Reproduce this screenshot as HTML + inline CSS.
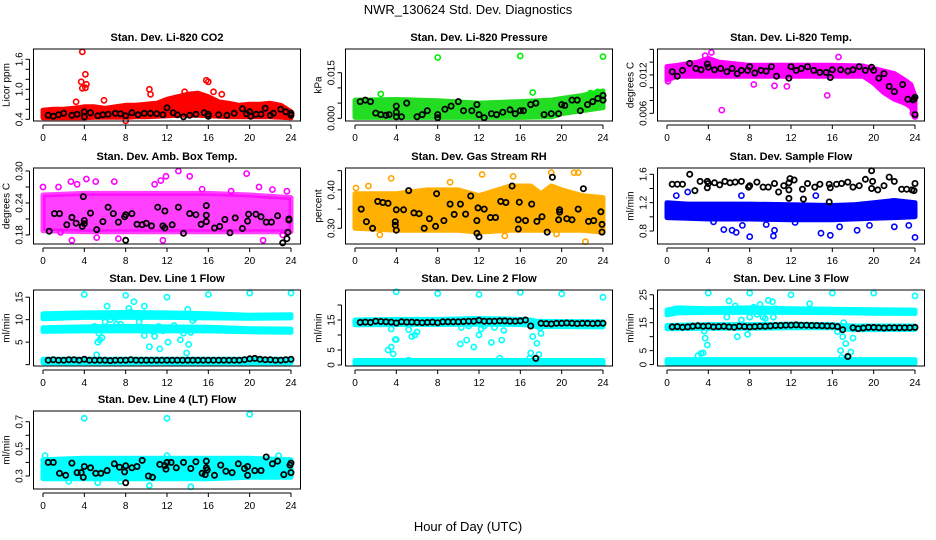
<!DOCTYPE html>
<html><head><meta charset="utf-8">
<style>
html,body{margin:0;padding:0;background:#fff;}
svg{display:block;font-family:"Liberation Sans",Arial,sans-serif;}
</style></head>
<body>
<svg id="chart" width="936" height="540" viewBox="0 0 936 540" xmlns="http://www.w3.org/2000/svg">
<rect x="0" y="0" width="936" height="540" fill="#fff"/>
<text x="468" y="14" text-anchor="middle" font-size="13">NWR_130624  Std. Dev. Diagnostics</text>
<text x="468" y="531" text-anchor="middle" font-size="13">Hour of Day (UTC)</text>
</svg>
<script>
// ---------- shared data ----------
const xTicks = [0,4,8,12,16,20,24];
const halfHours = [0.5,1,1.5,2,2.5,3,3.5,4,4.5,5,5.5,6,6.5,7,7.5,8,8.5,9,9.5,10,10.5,11,11.5,12,12.5,13,13.5,14,14.5,15,15.5,16,16.5,17,17.5,18,18.5,19,19.5,20,20.5,21,21.5,22,22.5,23,23.5,24];

// ---------- P1 CO2 ----------
const p1Band = [[0,0.43,0.58],[1,0.43,0.6],[2,0.43,0.6],[3,0.43,0.62],[4,0.43,0.65],[5,0.44,0.65],[6,0.44,0.62],[7,0.44,0.65],[8,0.44,0.68],[9,0.45,0.68],[10,0.45,0.7],[11,0.46,0.72],[12,0.47,0.8],[13,0.48,0.85],[14,0.48,0.9],[15,0.48,0.92],[16,0.47,0.85],[17,0.46,0.75],[18,0.45,0.72],[19,0.45,0.68],[20,0.45,0.7],[21,0.45,0.7],[22,0.45,0.72],[23,0.44,0.68],[24,0.43,0.55]];
const p1Out = [[3.8,1.75],[3.7,1.15],[3.8,1.02],[4.1,1.3],[4.2,1.1],[4.1,1.03],[10.3,1.0],[10.4,0.9],[15.8,1.18],[16,1.15],[16.5,0.95],[17.3,0.9],[8,0.37],[3.2,0.75],[5.9,0.78],[13.7,0.95]];
const p1Black = [[0.5,0.48],[1,0.46],[1.5,0.49],[2,0.52],[2.8,0.48],[3.3,0.5],[4,0.45],[4,0.55],[4.6,0.53],[5.3,0.47],[5.8,0.49],[6.3,0.5],[7,0.52],[7.5,0.51],[8,0.47],[8.6,0.53],[9.2,0.49],[9.8,0.52],[10.4,0.52],[11,0.51],[11.6,0.49],[12,0.63],[12.6,0.53],[13,0.49],[13.6,0.45],[14.2,0.48],[14.8,0.5],[15.6,0.53],[16,0.5],[16,0.46],[17,0.49],[17.8,0.48],[18.5,0.52],[19.3,0.61],[19.7,0.51],[20,0.55],[20.1,0.46],[20.6,0.5],[21.1,0.5],[21.5,0.62],[22,0.48],[22.3,0.52],[23,0.6],[23.5,0.55],[24,0.52],[24,0.48]];
const p1Ticks = [0.4,0.6,0.8,1.0,1.2,1.4,1.6];
const p1Labels = ["0.4","","","1.0","","","1.6"];

// ---------- P2 Pressure ----------
const p2Band = [[0,0.0003,0.006],[4,0.0003,0.0062],[8,0.0003,0.0058],[12,0.0003,0.005],[16,0.0003,0.0055],[19,0.0005,0.006],[20,0.0015,0.0065],[22,0.0025,0.0075],[24,0.0035,0.009]];
const p2Out = [[8,0.0200],[16,0.0205],[24,0.0203],[17.2,0.0085],[23.5,0.0087],[2.5,0.008],[22.8,0.0083]];
const p2Black = [[0.5,0.0055],[1,0.006],[1.5,0.0055],[2,0.0017],[2.5,0.0012],[3,0.001],[3.3,0.0012],[4,0.004],[4,0.002],[4,0.0005],[4.5,0.0005],[5,0.005],[6,0.0005],[6.5,0.0012],[7,0.0025],[8,0.0012],[8,0.0002],[8.7,0.003],[9.3,0.004],[10,0.0055],[10.5,0.0025],[11.3,0.0025],[11.8,0.0045],[12,0.0012],[12.5,0.0002],[13.2,0.0015],[13.7,0.0012],[14.3,0.002],[15,0.0028],[15.5,0.0015],[16,0.0025],[16.3,0.0025],[17,0.0045],[17.5,0.005],[18.3,0.0012],[19,0.0015],[19.7,0.0015],[20,0.0045],[20.3,0.0042],[21,0.006],[21.5,0.006],[21.8,0.0025],[22.5,0.0045],[23,0.0055],[23.5,0.0065],[24,0.0075],[24,0.006]];
const p2Ticks = [0,0.005,0.010,0.015];
const p2Labels = ["0.000","","","0.015"];

// ---------- P3 Li-820 Temp ----------
const p3Band = [[0,0.0112,0.0133],[1,0.0118,0.0135],[3,0.0118,0.0140],[4,0.0118,0.0146],[5,0.0118,0.0140],[8,0.0118,0.0135],[12,0.0118,0.0135],[16,0.0118,0.0135],[19,0.0118,0.0134],[20,0.0107,0.0130],[21,0.0092,0.0126],[22,0.0082,0.0122],[23,0.0076,0.0112],[23.6,0.0070,0.0105],[24,0.0056,0.0086]];
const p3Out = [[0.1,0.0110],[5.3,0.0065],[8.4,0.0105],[10.4,0.0103],[11.6,0.0102],[15.5,0.0088],[4.3,0.0155],[16.6,0.0148],[3.7,0.0150],[23.8,0.0060],[24,0.0055]];
const p3Black = [[0.5,0.0125],[1,0.0118],[1.5,0.0127],[2.2,0.0138],[2.8,0.0130],[3.3,0.0128],[3.9,0.0137],[4,0.0132],[4.6,0.0128],[5.2,0.0130],[5.8,0.0125],[6.3,0.0130],[6.8,0.0122],[7.2,0.0127],[7.8,0.0127],[8,0.0133],[8.5,0.0123],[9.1,0.0127],[9.6,0.0126],[10.1,0.0133],[10.6,0.0118],[11.8,0.0115],[12,0.0133],[12.5,0.0127],[13,0.0130],[13.6,0.0133],[14.2,0.0127],[14.8,0.0124],[15.4,0.0124],[15.8,0.0116],[16,0.0128],[16.8,0.0128],[17.5,0.0126],[18,0.0128],[18.6,0.0133],[19.2,0.0127],[19.8,0.0132],[20,0.0127],[20.5,0.0115],[21,0.0122],[21.5,0.0102],[22,0.0094],[22.8,0.0105],[23.3,0.0082],[23.8,0.0081],[24,0.0085],[24,0.0058],[23.9,0.0082]];
const p3Ticks = [0.006,0.008,0.010,0.012,0.014,0.016];
const p3Labels = ["0.006","","","0.012","",""];

// ---------- P4 Amb Box Temp ----------
const p4Band = [[0,0.188,0.255],[4,0.186,0.258],[8,0.186,0.258],[12,0.186,0.258],[16,0.186,0.258],[20,0.186,0.255],[24,0.186,0.25]];
const p4Out = [[0,0.27],[1.5,0.27],[2.7,0.28],[4.2,0.285],[5.1,0.28],[6.9,0.28],[11.9,0.29],[13.1,0.30],[14.2,0.29],[19.7,0.295],[20.9,0.27],[2.8,0.17],[7.3,0.173],[11.6,0.17],[21.3,0.17],[23.2,0.18],[1.7,0.185],[5.2,0.175],[10.8,0.275],[11.4,0.282],[15.4,0.266],[18.2,0.262],[22.2,0.265],[3.3,0.275],[23.6,0.262]];
const p4Black = [[0.6,0.187],[1.1,0.22],[1.6,0.22],[2.3,0.199],[2.8,0.213],[3.2,0.202],[3.8,0.196],[3.9,0.252],[4,0.207],[4,0.201],[4.6,0.221],[5.2,0.19],[5.8,0.205],[6.3,0.232],[6.8,0.22],[7.3,0.204],[7.9,0.214],[8,0.17],[8,0.218],[8.6,0.22],[9.1,0.2],[9.6,0.199],[10,0.202],[10.5,0.197],[11.1,0.232],[11.6,0.197],[11.8,0.193],[11.8,0.225],[12.5,0.199],[13.1,0.232],[13.6,0.183],[14.2,0.22],[14.8,0.218],[15.3,0.2],[15.8,0.235],[15.8,0.205],[15.8,0.217],[16.6,0.193],[17.1,0.196],[17.6,0.209],[18.1,0.184],[18.6,0.212],[19.3,0.192],[19.8,0.206],[19.9,0.219],[20.6,0.219],[21.1,0.214],[21.6,0.204],[22.1,0.204],[22.7,0.216],[23.2,0.165],[23.6,0.173],[23.7,0.185],[23.8,0.21],[23.8,0.208]];
const p4Ticks = [0.18,0.21,0.24,0.27,0.30];
const p4Labels = ["0.18","","0.24","","0.30"];

// ---------- P5 Gas Stream RH ----------
const p5Band = [[0,0.30,0.39],[4,0.295,0.39],[7,0.295,0.40],[10,0.295,0.40],[12,0.29,0.385],[15,0.295,0.41],[17,0.295,0.41],[18,0.295,0.39],[19,0.295,0.41],[20,0.295,0.40],[22,0.295,0.385],[24,0.29,0.38]];
const p5Out = [[3.5,0.43],[12.3,0.44],[15.3,0.435],[19,0.445],[21.2,0.445],[21.6,0.445],[22.3,0.265],[1.3,0.41],[0.1,0.405],[9.2,0.42],[2.4,0.283],[14.5,0.28],[19.5,0.285]];
const p5Black = [[0.6,0.35],[1.1,0.317],[1.7,0.3],[2.2,0.37],[2.7,0.367],[3.2,0.365],[3.9,0.317],[3.9,0.308],[4,0.295],[4,0.348],[4.7,0.348],[5.2,0.398],[5.7,0.34],[6.2,0.338],[6.7,0.3],[7.2,0.325],[7.8,0.305],[7.9,0.39],[8.6,0.32],[9.2,0.363],[9.6,0.336],[10.2,0.363],[10.7,0.337],[11.2,0.384],[11.8,0.287],[11.8,0.32],[11.9,0.353],[12,0.278],[12.5,0.35],[13.1,0.328],[13.6,0.328],[14.1,0.37],[14.6,0.367],[15.2,0.41],[15.8,0.298],[15.8,0.322],[15.9,0.368],[16.5,0.32],[17.1,0.363],[17.6,0.318],[18.1,0.33],[18.6,0.29],[19.1,0.433],[19.7,0.322],[19.8,0.342],[19.8,0.348],[20.5,0.325],[21,0.322],[21.6,0.35],[22.1,0.403],[22.6,0.318],[23.1,0.32],[23.8,0.343],[23.9,0.31],[23.9,0.29]];
const p5Ticks = [0.30,0.35,0.40,0.45];
const p5Labels = ["0.30","","0.40",""];

// ---------- P6 Sample Flow ----------
const p6Band = [[0,0.99,1.2],[2,0.98,1.18],[4,0.97,1.18],[8,0.97,1.18],[12,0.96,1.17],[16,0.96,1.16],[18,0.97,1.17],[20,0.98,1.2],[22,0.99,1.23],[24,1.0,1.2]];
const p6Out = [[2,1.35],[5.5,0.82],[6.3,0.81],[6.7,0.78],[7.3,0.88],[8,0.72],[9.6,0.89],[10.4,0.81],[10.3,0.73],[14.9,0.77],[15.8,0.74],[16.7,0.86],[18.4,0.81],[19.6,0.88],[22,0.86],[23.4,0.88],[24,0.71],[0.9,1.3],[7.2,1.3],[14.4,1.3],[4.5,0.93],[12.4,0.92]];
const p6Black = [[0.5,1.46],[1,1.46],[1.5,1.46],[2.2,1.6],[2.7,1.37],[3.2,1.5],[3.9,1.5],[3.9,1.41],[4,1.47],[4.6,1.48],[5.1,1.45],[5.6,1.5],[6.1,1.48],[6.6,1.49],[7.2,1.5],[7.9,1.42],[8,1.44],[8.7,1.49],[9.3,1.42],[9.8,1.42],[10.4,1.47],[10.8,1.35],[11.3,1.44],[11.8,1.48],[11.9,1.54],[11.8,1.38],[11.8,1.26],[12.3,1.52],[13.1,1.39],[13.2,1.25],[13.6,1.47],[14.3,1.42],[14.8,1.46],[15.7,1.46],[15.8,1.41],[15.7,1.21],[16.4,1.46],[16.9,1.47],[17.5,1.49],[18,1.42],[18.6,1.44],[19.2,1.53],[19.8,1.4],[19.8,1.65],[19.9,1.5],[20.4,1.38],[21,1.44],[21.5,1.56],[22,1.5],[22.7,1.39],[23.2,1.39],[23.7,1.38],[23.9,1.37],[24,1.47]];
const p6Ticks = [0.8,1.0,1.2,1.4,1.6];
const p6Labels = ["0.8","","1.2","","1.6"];

// ---------- P7 Line 1 Flow ----------
const p7BandHigh = [[0,10.2,11.3],[4,10.5,11.5],[8,10.5,11.6],[12,10.5,11.5],[16,10.4,11.3],[20,10.3,11.0],[24,10.4,11.1]];
const p7BandMid = [[0,7.4,8.2],[4,7.5,8.4],[8,7.5,8.5],[12,7.5,8.4],[16,7.5,8.3],[20,7.3,8.0],[24,7.2,7.9]];
const p7BandLow = [[0,0.4,1.2],[24,0.4,1.2]];
const p7Out = [[4,15.6],[8,15.4],[12,15],[16,15.6],[20,15.9],[24,15.9],[8.8,14],[6.2,13],[9.8,13],[14,12.3],[8.3,12.5],[5.2,2.2],[5.3,5],[5.5,5.5],[5.7,6],[6,9.5],[6.5,10],[7.1,9],[7.5,9],[9.3,9.5],[9.8,6.5],[10.3,4],[10.8,6.3],[11.3,3.5],[12.1,5],[11.2,8.5],[13.3,5.5],[13.6,7],[13.9,2.6],[14.1,4.5],[14.5,9.8],[12.7,8.7],[11.6,7.5],[10.5,7.5],[9,11],[9.5,10.5],[7.7,11],[6.3,8],[5,8.5],[5.4,7],[7,10.5],[8.5,11.7],[10,11],[13.5,8],[14.3,7.2],[14.7,10.3]];
const p7BlackVals = [1.0,1.1,1.0,1.0,1.1,1.1,1.0,1.2,1.0,1.0,1.0,1.0,0.9,1.0,1.0,1.0,1.1,1.0,1.0,1.0,1.0,1.0,1.0,1.0,1.0,1.0,1.0,1.0,1.0,1.0,1.0,1.0,1.0,1.0,1.0,1.0,1.0,1.0,1.1,1.3,1.4,1.2,1.1,1.1,1.0,1.0,1.1,1.2];
const p7Ticks = [0,5,10,15];
const p7Labels = ["","5","10","15"];

// ---------- P8 Line 2 Flow ----------
const p8BandHigh = [[0,13.4,15.0],[4,13.5,15.2],[8,13.5,15.2],[12,13.6,15.5],[16,13.5,15.2],[17,13.3,15.0],[17.5,12.8,14.6],[20,12.8,14.5],[24,12.7,14.4]];
const p8BandLow = [[0,0.2,1.5],[24,0.2,1.5]];
const p8Out = [[4,24.4],[8,23.8],[12,23.5],[16,24.2],[20,23.7],[24,22.6],[3.2,5],[3.5,6],[3.7,3.7],[3.9,8.5],[4,8.5],[3.5,12],[5.2,11.8],[5.5,9.5],[5.8,10],[6,11],[10.2,7],[10.8,8.3],[11.5,6],[12,10],[12.2,12],[13.2,7.5],[14.2,8.3],[14.4,11.5],[14,2.3],[10.3,12.5],[13.5,12.5],[17,4],[17.2,9.5],[17.6,7.2],[17.8,3.5],[18,10.5],[17.9,12.3],[16.9,2.2],[12.5,13],[11,13],[5.2,1.6]];
const p8BlackVals = [14.2,14.3,14.2,14.6,14.5,14.4,14.3,14.0,14.4,14.3,14.3,14.2,14.1,14.2,14.3,14.1,14.4,14.4,14.4,14.4,14.5,14.6,14.6,14.9,14.6,14.6,14.6,14.7,14.7,14.6,14.6,14.7,15.0,13.0,2.2,13.9,13.8,13.7,13.9,13.9,14.0,13.9,13.8,13.9,13.9,13.8,13.9,13.9];
const p8Ticks = [0,5,10,15,20];
const p8Labels = ["0","5","","15",""];

// ---------- P9 Line 3 Flow ----------
const p9BandHigh = [[0,17.8,19.5],[1,18.5,20.3],[4,18.7,20.0],[8,18.7,20.3],[12,18.7,20.0],[16,18.6,19.8],[20,18.4,19.6],[24,18.3,19.5]];
const p9BandMid = [[0,12.8,14.0],[4,13.0,14.3],[8,13.0,14.3],[12,13.2,14.5],[16,13.2,14.3],[17,12.8,14.0],[18,12.5,13.8],[24,12.6,13.8]];
const p9BandLow = [[0,0.5,1.8],[24,0.5,1.8]];
const p9Out = [[4,25.6],[8,25.6],[12,25],[16,25.6],[20,25.6],[24,24.6],[3,3.2],[3.3,4],[3.5,4.2],[3.7,9.5],[3.9,7],[3.6,12],[6,22.8],[6.6,21],[6.8,10],[5.8,17],[7.2,16],[7.8,10.8],[8,17],[8.4,20.5],[8.7,18],[9,21.5],[9.3,17],[9.5,16.5],[9.8,23],[10.2,22.5],[10.3,17],[10.5,20],[13.8,21.8],[16.5,11.8],[16.8,5],[17,10],[17.1,15],[17.3,7.5],[17.6,2.5],[17.8,4.5],[18,9.5],[16.9,2.5]];
const p9BlackVals = [13.5,13.6,13.4,13.5,13.7,13.9,13.7,13.8,13.5,13.6,13.7,13.5,13.4,13.7,13.6,13.5,13.6,13.7,13.7,13.8,14.0,14.0,14.1,14.1,14.2,14.1,14.1,14.0,14.0,13.9,13.8,13.8,13.6,12.5,2.9,13.2,12.9,13.1,13.3,13.3,13.2,13.1,13.2,13.2,13.2,13.2,13.2,13.3];
const p9Ticks = [0,5,10,15,20,25];
const p9Labels = ["0","5","","15","","25"];

// ---------- P10 Line 4 Flow ----------
const p10Band = [[0,0.28,0.42],[4,0.28,0.43],[8,0.28,0.43],[12,0.28,0.43],[16,0.28,0.43],[20,0.29,0.43],[24,0.29,0.42]];
const p10Out = [[4,0.725],[12,0.725],[20,0.755],[0.2,0.45],[12,0.45],[10.3,0.23],[14.3,0.22],[5.3,0.25],[22.8,0.45],[2.5,0.26],[7.5,0.26]];
const p10Black = [[0.5,0.4],[1,0.4],[1.6,0.32],[2.2,0.305],[2.8,0.395],[3.3,0.325],[3.7,0.325],[3.9,0.29],[4,0.37],[4.6,0.36],[5.1,0.32],[5.6,0.32],[6.2,0.34],[6.9,0.39],[7.4,0.365],[7.9,0.33],[8,0.25],[8,0.375],[8.6,0.36],[9.1,0.37],[9.6,0.415],[10.2,0.3],[10.6,0.29],[11.3,0.385],[11.8,0.375],[11.9,0.35],[12,0.4],[12.4,0.4],[12.9,0.36],[13.6,0.4],[14.3,0.355],[14.8,0.405],[15.4,0.32],[15.7,0.31],[15.8,0.36],[15.8,0.41],[15.9,0.345],[16.6,0.305],[17.2,0.38],[17.7,0.335],[18.3,0.325],[18.9,0.39],[19.5,0.355],[19.8,0.37],[19.8,0.305],[20.5,0.34],[21.1,0.34],[21.6,0.44],[22.2,0.39],[22.7,0.41],[23.3,0.31],[23.9,0.38],[24,0.325],[24,0.395]];
const p10Ticks = [0.3,0.4,0.5,0.6,0.7];
const p10Labels = ["0.3","","0.5","","0.7"];

// ---------- layout ----------
const SVGNS = "http://www.w3.org/2000/svg";
const svg = document.getElementById("chart");
const rowTop = [49,168,290,411];
const rowBot = [121,244,366,489];
function mk(tag, attrs, parent){
  const e = document.createElementNS(SVGNS, tag);
  for (const k in attrs) e.setAttribute(k, attrs[k]);
  (parent||svg).appendChild(e);
  return e;
}
function pairsFrom(vals){ return halfHours.map((h,i)=>[h, vals[i]]); }

function panel(key, col, row, title, ylab, ylim, ticks, labels, color, bandFill, bandOpacity, bands, outs, blacks){
  const top = rowTop[row], bot = rowBot[row];
  const x0 = 43 + 312*col, x24 = 291 + 312*col;
  const left = x0 - 9.5, right = x24 + 9.5;
  const X = h => x0 + h*(x24-x0)/24;
  const Y = v => bot - (v-ylim[0])/(ylim[1]-ylim[0])*(bot-top);
  const g = mk("g", {});
  
  

  const t = mk("text", {x:(left+right)/2, y:top-8, "text-anchor":"middle", "font-size":"11", "font-weight":"bold"}, g);
  
  
  t.textContent = title;

  const yl = mk("text", {x:0, y:0, "text-anchor":"middle", "font-size":"10", transform:`translate(${left-24},${(top+bot)/2}) rotate(-90)`}, g);
  
  
  yl.textContent = ylab;

  // bands
  const clip = mk("clipPath", {id:"clip-"+key}, g);
  mk("rect", {x:left, y:top, width:right-left, height:bot-top}, clip);
  const plot = mk("g", {"clip-path":`url(#clip-${key})`}, g);
  
  
  bands.forEach((b, bi) => {
    const up = b.map(p => `${X(p[0]).toFixed(1)},${Y(p[2]).toFixed(1)}`);
    const dn = b.slice().reverse().map(p => `${X(p[0]).toFixed(1)},${Y(p[1]).toFixed(1)}`);
    const poly = mk("polygon", {points: up.concat(dn).join(" "), fill: bandFill, "fill-opacity": bandOpacity, stroke: bandFill, "stroke-opacity": bandOpacity, "stroke-width": 5, "stroke-linejoin":"round"}, plot);
    
    
  });
  outs.forEach(p => {
    const c = mk("circle", {cx:X(p[0]).toFixed(1), cy:Y(p[1]).toFixed(1), r:2.6, fill:"none", stroke:color, "stroke-width":1.6}, g);
    
    
  });
  blacks.forEach(p => {
    const c = mk("circle", {cx:X(p[0]).toFixed(1), cy:Y(p[1]).toFixed(1), r:2.6, fill:"none", stroke:"#000", "stroke-width":1.8}, g);
    
    
  });

  const box = mk("rect", {x:left, y:top, width:right-left, height:bot-top, fill:"none", stroke:"#000", "stroke-width":1}, g);
  
  

  // x axis
  const ay = bot + 4;
  const xa = mk("line", {x1:X(0), y1:ay, x2:X(24), y2:ay, stroke:"#000"}, g);
  
  
  xTicks.forEach(h => {
    mk("line", {x1:X(h), y1:ay, x2:X(h), y2:ay+4, stroke:"#000"}, g);
    const tl = mk("text", {x:X(h), y:ay+16, "text-anchor":"middle", "font-size":"10"}, g);
    
    
    tl.textContent = String(h);
  });
  // y axis
  const ax = left - 4;
  const ya = mk("line", {x1:ax, y1:Y(ticks[0]), x2:ax, y2:Y(ticks[ticks.length-1]), stroke:"#000"}, g);
  
  
  ticks.forEach((v,i) => {
    mk("line", {x1:ax-4, y1:Y(v), x2:ax, y2:Y(v), stroke:"#000"}, g);
    if (labels[i]) {
      const tl = mk("text", {x:0, y:0, "text-anchor":"middle", "font-size":"10", transform:`translate(${ax-7},${Y(v)}) rotate(-90)`}, g);
      
      
      tl.textContent = labels[i];
    }
  });
}

panel("co2",0,0,"Stan. Dev. Li-820 CO2","Licor ppm",[0.366,1.806],p1Ticks,p1Labels,"#ff0000","#ff0000",1,[p1Band],p1Out,p1Black);
panel("pressure",1,0,"Stan. Dev. Li-820 Pressure","kPa",[-0.00089,0.0228],p2Ticks,p2Labels,"#00ee00","#22dd22",1,[p2Band],p2Out,p2Black);
panel("li820-temp",2,0,"Stan. Dev. Li-820 Temp.","degrees C",[0.0048,0.01605],p3Ticks,p3Labels,"#ff00ff","#ff00ff",1,[p3Band],p3Out,p3Black);
panel("amb-box-temp",0,1,"Stan. Dev. Amb. Box Temp.","degrees C",[0.163,0.3056],p4Ticks,p4Labels,"#ff00ff","#ff00ff",0.75,[p4Band],p4Out,p4Black);
panel("gas-rh",1,1,"Stan. Dev. Gas Stream RH","percent",[0.259,0.457],p5Ticks,p5Labels,"#ffa500","#ffb000",1,[p5Band],p5Out,p5Black);
panel("sample-flow",2,1,"Stan. Dev. Sample Flow","ml/min",[0.617,1.689],p6Ticks,p6Labels,"#0000ff","#0000ff",1,[p6Band],p6Out,p6Black);
panel("line1-flow",0,2,"Stan. Dev. Line 1 Flow","ml/min",[-0.3,16.6],p7Ticks,p7Labels,"#00ffff","#00ffff",1,[p7BandHigh,p7BandMid,p7BandLow],p7Out,pairsFrom(p7BlackVals));
panel("line2-flow",1,2,"Stan. Dev. Line 2 Flow","ml/min",[-0.33,25],p8Ticks,p8Labels,"#00ffff","#00ffff",1,[p8BandHigh,p8BandLow],p8Out,pairsFrom(p8BlackVals));
panel("line3-flow",2,2,"Stan. Dev. Line 3 Flow","ml/min",[-0.5,26.7],p9Ticks,p9Labels,"#00ffff","#00ffff",1,[p9BandHigh,p9BandMid,p9BandLow],p9Out,pairsFrom(p9BlackVals));
panel("line4-flow",0,3,"Stan. Dev. Line 4 (LT) Flow","ml/min",[0.204,0.779],p10Ticks,p10Labels,"#00ffff","#00ffff",1,[p10Band],p10Out,p10Black);
</script>
</body></html>
